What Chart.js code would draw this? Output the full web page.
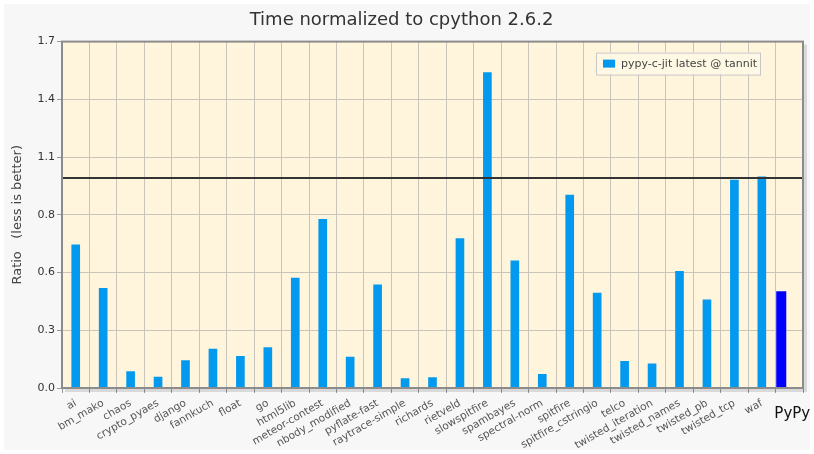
<!DOCTYPE html>
<html>
<head>
<meta charset="utf-8">
<title>Time normalized to cpython 2.6.2</title>
<script src="https://cdn.jsdelivr.net/npm/chart.js@4.4.1/dist/chart.umd.min.js"></script>
<style>
  html, body { margin: 0; padding: 0; background: #fff; }
  #wrap { position: relative; width: 814px; height: 454px; }
  #wrap:before { content: ''; position: absolute; left: 4px; top: 4px; right: 4px; bottom: 4px; background: #f7f7f7; }
  canvas { position: relative; }
</style>
</head>
<body>
<div id="wrap"><canvas id="chart" width="814" height="454"></canvas></div>
<script>
const benchmarks = ['ai', 'bm_mako', 'chaos', 'crypto_pyaes', 'django', 'fannkuch', 'float', 'go',
  'html5lib', 'meteor-contest', 'nbody_modified', 'pyflate-fast', 'raytrace-simple', 'richards',
  'rietveld', 'slowspitfire', 'spambayes', 'spectral-norm', 'spitfire', 'spitfire_cstringio', 'telco',
  'twisted_iteration', 'twisted_names', 'twisted_pb', 'twisted_tcp', 'waf', 'PyPy'];

// pypy-c-jit latest @ tannit, time relative to cpython 2.6.2
const jitRatios = [0.682, 0.475, 0.078, 0.052, 0.131, 0.185, 0.151, 0.193,
  0.523, 0.803, 0.147, 0.491, 0.045, 0.050,
  0.712, 1.502, 0.606, 0.065, 0.919, 0.452, 0.127,
  0.115, 0.556, 0.420, 0.990, 1.006, null];

// overall PyPy bar (only the last category)
const pypyRatios = [null, null, null, null, null, null, null, null, null, null, null, null, null, null,
  null, null, null, null, null, null, null, null, null, null, null, null, 0.461];

const yTickValues = [0, 0.275, 0.55, 0.825, 1.1, 1.375, 1.65];
const yTickLabels = ['0.0', '0.3', '0.6', '0.8', '1.1', '1.4', '1.7'];
const baseline = 1.0;
const seriesName = 'pypy-c-jit latest @ tannit';

const barColor = '#0399ee';
const pypyColor = '#0000ff';
const gridColor = '#cac5ba';

Chart.defaults.font.family = '"DejaVu Sans", sans-serif';

// cream plot area, the 1.0 line, frame, legend box and the PyPy label
const plotDecor = {
  id: 'plotDecor',
  beforeDraw(chart) {
    const { ctx, chartArea: a } = chart;
    ctx.save();
    ctx.fillStyle = '#fff5dc';
    ctx.fillRect(a.left, a.top, a.right - a.left, a.bottom - a.top);
    ctx.restore();
  },
  afterDatasetsDraw(chart) {
    const { ctx, chartArea: a, scales } = chart;
    ctx.save();

    const yb = scales.y.getPixelForValue(baseline);
    ctx.strokeStyle = '#333';
    ctx.lineWidth = 2;
    ctx.beginPath();
    ctx.moveTo(a.left, yb);
    ctx.lineTo(a.right, yb);
    ctx.stroke();

    // shadow on right and bottom, then frame
    ctx.strokeStyle = 'rgba(0,0,0,0.12)';
    ctx.lineWidth = 3;
    ctx.beginPath();
    ctx.moveTo(a.right + 2.5, a.top + 3);
    ctx.lineTo(a.right + 2.5, a.bottom + 2.5);
    ctx.lineTo(a.left + 3, a.bottom + 2.5);
    ctx.stroke();
    ctx.strokeStyle = '#8c8c8c';
    ctx.lineWidth = 2;
    ctx.strokeRect(a.left, a.top, a.right - a.left, a.bottom - a.top);

    // legend
    ctx.font = '11px "DejaVu Sans", sans-serif';
    const tw = ctx.measureText(seriesName).width;
    const bw = tw + 28, bh = 22;
    const bx = a.right - 43 - bw, by = a.top + 11;
    ctx.fillStyle = 'rgba(255,248,230,0.9)';
    ctx.fillRect(bx, by, bw, bh);
    ctx.strokeStyle = '#c8c8c8';
    ctx.lineWidth = 1;
    ctx.strokeRect(bx + 0.5, by + 0.5, bw, bh);
    ctx.fillStyle = barColor;
    ctx.fillRect(bx + 7, by + 7, 12, 8);
    ctx.fillStyle = '#444';
    ctx.textBaseline = 'middle';
    ctx.textAlign = 'left';
    ctx.fillText(seriesName, bx + 25, by + bh / 2 + 0.5);

    // PyPy category label, horizontal and larger
    const last = benchmarks.length - 1;
    ctx.font = '15px "DejaVu Sans", sans-serif';
    ctx.fillStyle = '#111';
    ctx.textAlign = 'center';
    ctx.fillText(benchmarks[last], scales.x.getPixelForValue(last) + 3, a.bottom + 26);
    ctx.restore();
  }
};

new Chart(document.getElementById('chart'), {
  type: 'bar',
  data: {
    labels: benchmarks,
    datasets: [{
      label: 'PyPy',
      data: pypyRatios,
      backgroundColor: pypyColor,
      categoryPercentage: 1.17,
      barPercentage: 0.625,
      skipNull: false
    }, {
      label: seriesName,
      data: jitRatios,
      backgroundColor: barColor,
      barThickness: 8,
      skipNull: true
    }]
  },
  options: {
    responsive: false,
    animation: false,
    layout: { padding: { left: 0, right: 11, top: 0, bottom: 0 } },
    plugins: {
      legend: { display: false },
      tooltip: { enabled: false },
      title: {
        display: true,
        text: 'Time normalized to cpython 2.6.2',
        color: '#333',
        font: { size: 18, weight: 'normal' },
        padding: { top: 10, bottom: 10 }
      }
    },
    scales: {
      x: {
        afterFit(scale) { scale.height = 66; },
        grid: { color: gridColor, tickColor: '#999', tickLength: 5 },
        border: { display: false },
        ticks: {
          autoSkip: false,
          minRotation: 30,
          maxRotation: 30,
          padding: 4,
          color: '#555',
          font: { size: 10.5 },
          callback(value, index) { return index === benchmarks.length - 1 ? '' : benchmarks[index]; }
        }
      },
      y: {
        min: 0,
        max: 1.65,
        afterFit(scale) { scale.width = 62; },
        afterBuildTicks(scale) { scale.ticks = yTickValues.map(v => ({ value: v })); },
        grid: { color: gridColor, tickColor: '#999', tickLength: 5 },
        border: { display: false },
        ticks: {
          padding: 2,
          color: '#333',
          font: { size: 11 },
          callback(value, index) { return yTickLabels[index]; }
        },
        title: {
          display: true,
          text: 'Ratio   (less is better)',
          color: '#444',
          font: { size: 13 },
          padding: { top: 10, bottom: 0 }
        }
      }
    }
  },
  plugins: [plotDecor]
});
</script>
</body>
</html>
